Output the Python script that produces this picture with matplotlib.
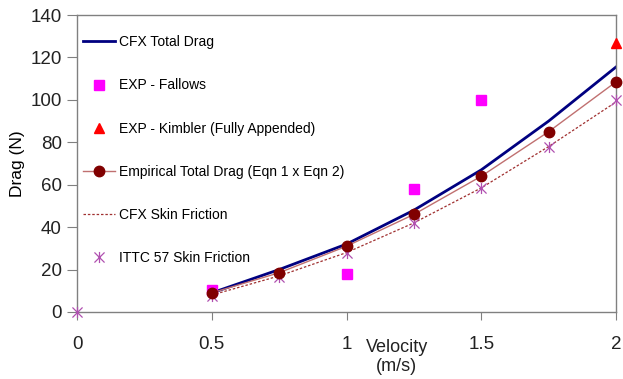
import matplotlib.pyplot as plt
import numpy as np
from matplotlib.path import Path

plt.rcParams['font.family'] = ['Liberation Sans', 'DejaVu Sans']

# velocities (m/s)
v = [0.5, 0.75, 1.0, 1.25, 1.5, 1.75, 2.0]
cfx_total = [9.0, 20.0, 32.0, 48.0, 67.0, 90.0, 115.5]
empirical_total = [9.0, 18.5, 31.0, 46.0, 64.0, 85.0, 108.5]
cfx_skin = [8.0, 17.0, 28.0, 42.0, 58.5, 78.0, 99.0]

v_ittc = [0.0, 0.5, 0.75, 1.0, 1.25, 1.5, 1.75, 2.0]
ittc_skin = [0.0, 7.5, 16.5, 28.0, 42.0, 58.5, 78.0, 100.0]

v_fallows = [0.5, 1.0, 1.25, 1.5]
exp_fallows = [10.5, 18.0, 58.0, 100.0]

v_kimbler = [2.0]
exp_kimbler = [127.0]

# asterisk marker: an x with a vertical bar through it
star = Path([(-1, -1), (1, 1), (-1, 1), (1, -1), (0, -1.1), (0, 1.1)],
            [Path.MOVETO, Path.LINETO, Path.MOVETO, Path.LINETO, Path.MOVETO, Path.LINETO])

fig = plt.figure(figsize=(6.23, 3.79), dpi=100)
ax = fig.add_axes([0.1236, 0.1768, 0.8652, 0.7836])

ax.plot(v, cfx_total, color='#000080', lw=2, label='CFX Total Drag')
ax.plot(v_fallows, exp_fallows, ls='none', marker='s', ms=7.5, color='#FF00FF',
        label='EXP - Fallows', clip_on=False)
ax.plot(v_kimbler, exp_kimbler, ls='none', marker='^', ms=7.5, color='#FF0000',
        label='EXP - Kimbler (Fully Appended)', clip_on=False, zorder=5)
ax.plot(v, empirical_total, color='#C07070', lw=1, marker='o', ms=7.5,
        mfc='#800000', mec='#800000', label='Empirical Total Drag (Eqn 1 x Eqn 2)',
        clip_on=False, zorder=4)
ax.plot(v, cfx_skin, color='#A03030', lw=0.9, ls=(0, (2, 1.5)), label='CFX Skin Friction')
ax.plot(v_ittc, ittc_skin, ls='none', marker=star, ms=8, mew=0.9, color='#B050B0',
        label='ITTC 57 Skin Friction', clip_on=False, zorder=3)

ax.set_xlim(0, 2)
ax.set_ylim(0, 140)
ax.set_xticks([0, 0.5, 1, 1.5, 2])
ax.set_xticklabels(['0', '0.5', '1', '1.5', '2'])
ax.set_yticks(range(0, 141, 20))

for s in ax.spines.values():
    s.set_color('#808080')
    s.set_linewidth(1)
ax.tick_params(axis='both', colors='#808080', labelcolor='#222222', labelsize=13.5)
ax.tick_params(axis='x', pad=11, length=6)
ax.tick_params(axis='y', pad=4, length=7)

ax.set_ylabel('Drag (N)', fontsize=12.5, labelpad=4)
fig.text(0.637, 0.01, 'Velocity\n(m/s)', ha='center', va='bottom', fontsize=13,
         color='#222222', linespacing=1.15)

ax.legend(loc='upper left', bbox_to_anchor=(0.011, 0.932), frameon=False, fontsize=10,
          borderpad=0, borderaxespad=0, labelspacing=2.1, handlelength=2.3,
          handletextpad=0.3, numpoints=1)

fig.savefig('out.png', dpi=100)
